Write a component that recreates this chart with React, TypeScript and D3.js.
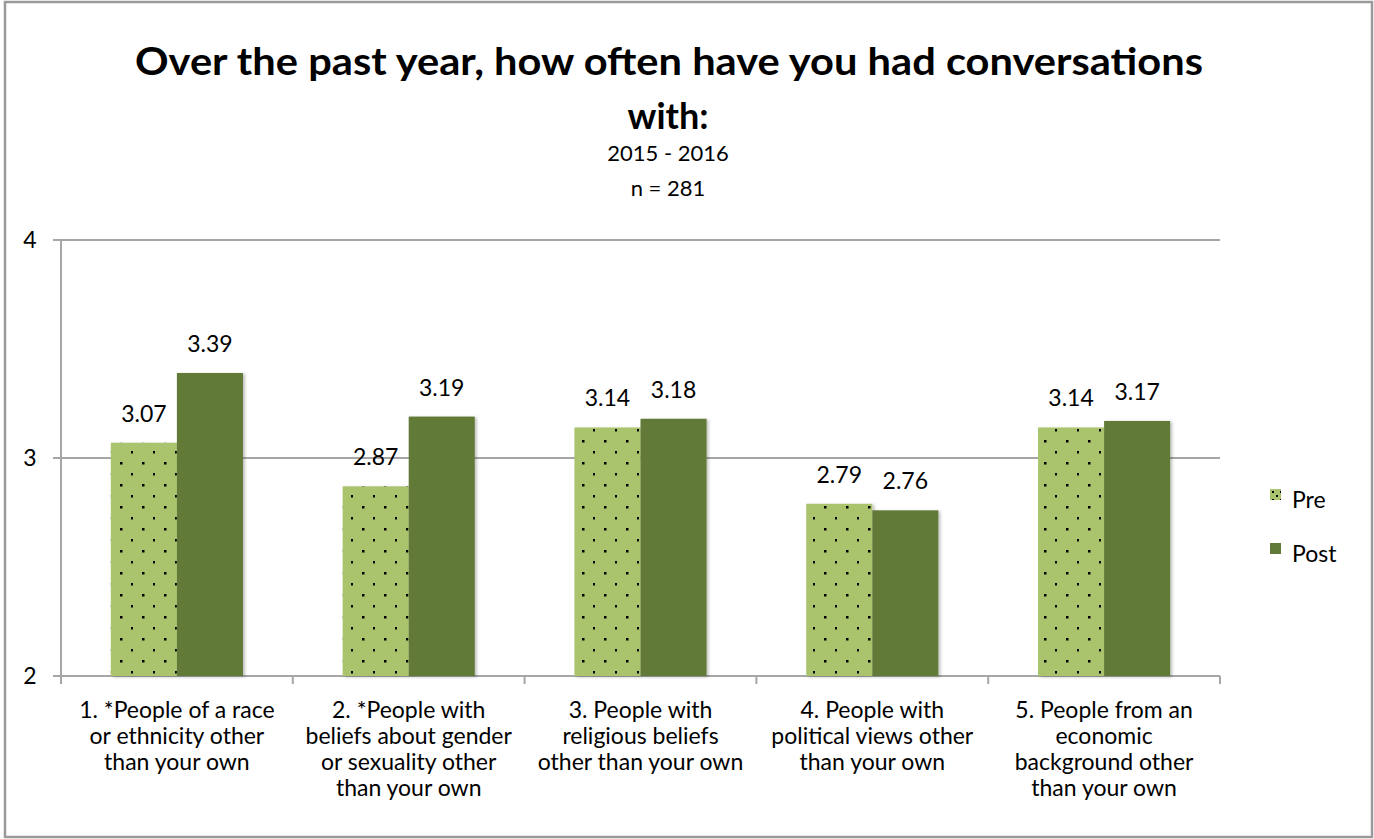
import React from "react";
import * as d3 from "d3";

const categories = [
  ["1. *People of a race", "or ethnicity other", "than your own"],
  ["2. *People with", "beliefs about gender", "or sexuality other", "than your own"],
  ["3. People with", "religious beliefs", "other than your own"],
  ["4. People with", "political views other", "than your own"],
  ["5. People from an", "economic", "background other", "than your own"],
];
const preValues = [3.07, 2.87, 3.14, 2.79, 3.14];
const postValues = [3.39, 3.19, 3.18, 2.76, 3.17];
const yTicks = [2, 3, 4];
const seriesNames = ["Pre", "Post"];

const W = 1374;
const H = 839;
const FONT = "Lato, 'Open Sans', sans-serif";
const PRE = "#a9c46c";
const POST = "#627a38";
const AXIS = "#a6a6a6";

export default function App() {
  const left = 61, right = 1220, top = 240, bottom = 676;
  const x0 = d3.scaleBand<number>().domain(d3.range(categories.length)).range([left, right]).padding(0);
  const barW = x0.bandwidth() * 0.285;
  const y = d3.scaleLinear().domain([2, 4]).range([bottom, top]);

  return (
    <div style={{ position: "absolute", left: 0, top: 0, width: W, height: H, overflow: "hidden" }}>
      <svg width={W} height={H} style={{ display: "block" }} fontFamily={FONT}>
        <defs>
          <pattern id="dots" width={22} height={22} patternUnits="userSpaceOnUse" x={left + 50} y={top}>
            <rect width={22} height={22} fill={PRE} />
            <rect x={9} y={2} width={2.5} height={2.5} fill="#000" />
            <rect x={20} y={13} width={2.5} height={2.5} fill="#000" />
          </pattern>
          <pattern id="dotsLegend" width={8} height={8} patternUnits="userSpaceOnUse" x={1270} y={489}>
            <rect width={8} height={8} fill={PRE} />
            <rect x={2} y={2} width={2} height={2} fill="#000" />
            <rect x={6} y={6} width={2} height={2} fill="#000" />
          </pattern>
          <filter id="shadow" x="-10%" y="-10%" width="130%" height="120%">
            <feDropShadow dx={2} dy={1} stdDeviation={1.5} floodColor="#000" floodOpacity={0.25} />
          </filter>
        </defs>
        <rect x={5} y={2} width={1367} height={835} fill="#fff" stroke="#9a9a9a" strokeWidth={2.5} />

        <text x={669} y={75} textAnchor="middle" fontSize={38} fontWeight="bold" fill="#000"
          textLength={1068} lengthAdjust="spacingAndGlyphs">
          Over the past year, how often have you had conversations
        </text>
        <text x={668} y={129} textAnchor="middle" fontSize={36} fontWeight="bold" fill="#000">with:</text>
        <text x={668} y={161} textAnchor="middle" fontSize={22} fill="#000">2015 - 2016</text>
        <text x={668} y={196} textAnchor="middle" fontSize={22} fill="#000">n = 281</text>

        {yTicks.map((t) => (
          <g key={t}>
            <line x1={53} x2={right} y1={y(t)} y2={y(t)} stroke={AXIS} strokeWidth={2} />
            <text x={30} y={y(t) + 8} textAnchor="middle" fontSize={23} fill="#000">{t}</text>
          </g>
        ))}
        <line x1={left} x2={left} y1={top} y2={bottom + 8} stroke={AXIS} strokeWidth={2} />
        {d3.range(categories.length + 1).map((i) => {
          const xx = i < categories.length ? x0(i)! : right;
          return <line key={i} x1={xx} x2={xx} y1={bottom} y2={bottom + 8} stroke={AXIS} strokeWidth={2} />;
        })}

        {categories.map((c, i) => {
          const cx = x0(i)! + x0.bandwidth() / 2;
          const vals = [preValues[i], postValues[i]];
          return (
            <g key={i}>
              {vals.map((v, j) => {
                const bx = j === 0 ? cx - barW : cx;
                return (
                  <g key={j}>
                    <rect x={bx} y={y(v)} width={barW} height={bottom - y(v)} fill={j === 0 ? "url(#dots)" : POST} filter="url(#shadow)" />
                    <text x={bx + barW / 2} y={y(v) - 21} textAnchor="middle" fontSize={23} fill="#000">{v.toFixed(2)}</text>
                  </g>
                );
              })}
              {c.map((line, k) => (
                <text key={k} x={cx} y={718 + k * 26} textAnchor="middle" fontSize={23} fill="#000">{line}</text>
              ))}
            </g>
          );
        })}

        {seriesNames.map((s, i) => (
          <g key={s}>
            <rect x={1270} y={489 + i * 54} width={11} height={11} fill={i === 0 ? "url(#dotsLegend)" : POST} />
            <text x={1292} y={508 + i * 54} fontSize={23} fill="#000">{s}</text>
          </g>
        ))}
      </svg>
    </div>
  );
}
